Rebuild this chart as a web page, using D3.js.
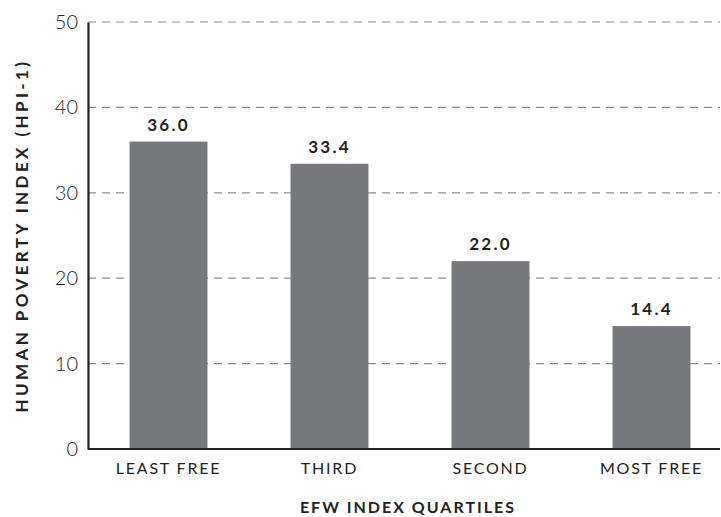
<!DOCTYPE html>
<html>
<head>
<meta charset="utf-8">
<script src="https://cdn.jsdelivr.net/npm/d3@7"></script>
<style>
  body { margin: 0; background: #fff; }
  svg { display: block; font-family: "Lato", "Open Sans", sans-serif; }
</style>
</head>
<body>
<svg id="chart" width="721" height="517"></svg>
<script>
// HPI-1 by EFW quartile
const categories = ["LEAST FREE", "THIRD", "SECOND", "MOST FREE"];
const values = [36.0, 33.4, 22.0, 14.4];
const yTicks = [0, 10, 20, 30, 40, 50];

(function renderBarChart() {
  const svg = d3.select("#chart");
  const left = 88, right = 720, top = 22, bottom = 449;

  const x = d3.scaleBand()
    .domain(categories)
    .range([left, left + 644])
    .paddingInner(0.516)
    .paddingOuter(0.258);

  const y = d3.scaleLinear().domain([0, 50]).range([bottom, top]);

  // dashed grid
  svg.append("g")
    .selectAll("line")
    .data(yTicks.filter(d => d > 0))
    .enter()
    .append("line")
    .attr("x1", left).attr("x2", right)
    .attr("y1", d => y(d)).attr("y2", d => y(d))
    .attr("stroke", "#8a8a8a")
    .attr("stroke-width", 1.2)
    .attr("stroke-dasharray", "8,6");

  // bars
  svg.append("g")
    .selectAll("rect")
    .data(values)
    .enter()
    .append("rect")
    .attr("x", (d, i) => x(categories[i]))
    .attr("y", d => y(d))
    .attr("width", x.bandwidth())
    .attr("height", d => bottom - y(d))
    .attr("fill", "#77787b");

  // value labels
  svg.append("g")
    .selectAll("text")
    .data(values)
    .enter()
    .append("text")
    .attr("x", (d, i) => x(categories[i]) + x.bandwidth() / 2)
    .attr("y", d => y(d) - 11)
    .attr("text-anchor", "middle")
    .attr("font-size", 17)
    .attr("font-weight", "bold")
    .attr("letter-spacing", 2.2)
    .attr("fill", "#222")
    .text(d => d.toFixed(1));

  // axes
  const yAxis = svg.append("g")
    .attr("transform", `translate(${left},0)`)
    .call(d3.axisLeft(y).tickValues(yTicks).tickSize(0).tickPadding(10));
  yAxis.select(".domain").attr("stroke", "#222").attr("stroke-width", 2.2);
  yAxis.selectAll("text")
    .attr("font-size", 20)
    .attr("font-weight", 300)
    .attr("font-family", "Lato, sans-serif")
    .attr("fill", "#222");

  const xAxis = svg.append("g")
    .attr("transform", `translate(0,${bottom})`)
    .call(d3.axisBottom(x).tickSize(0).tickPadding(14));
  xAxis.select(".domain").attr("d", `M${left},0H${right}`)
    .attr("stroke", "#222").attr("stroke-width", 2.2);
  xAxis.selectAll("text")
    .attr("font-size", 16)
    .attr("font-family", "Lato, sans-serif")
    .attr("letter-spacing", 1.8)
    .attr("fill", "#222");

  // axis titles
  svg.append("text")
    .attr("x", (left + right) / 2 + 4)
    .attr("y", 513)
    .attr("text-anchor", "middle")
    .attr("font-size", 16)
    .attr("font-weight", "bold")
    .attr("letter-spacing", 2)
    .attr("fill", "#222")
    .text("EFW INDEX QUARTILES");

  svg.append("text")
    .attr("transform", `translate(28,${(top + bottom) / 2}) rotate(-90)`)
    .attr("text-anchor", "middle")
    .attr("font-size", 17)
    .attr("font-weight", "bold")
    .attr("letter-spacing", 3.4)
    .attr("fill", "#222")
    .text("HUMAN POVERTY INDEX (HPI-1)");
})();
</script>
</body>
</html>
